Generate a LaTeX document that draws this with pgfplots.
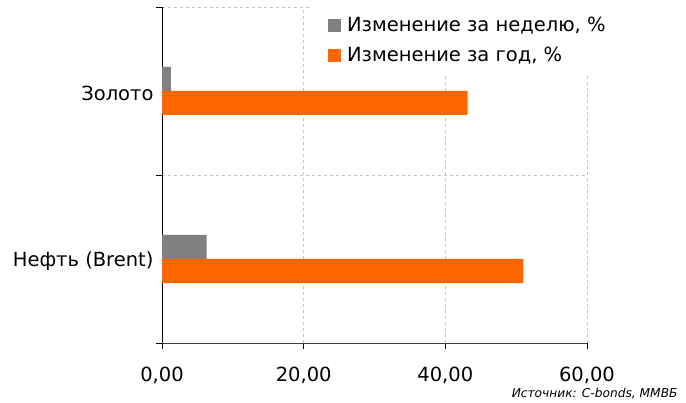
\documentclass[border=0pt]{standalone}
\usepackage{pgfplots}
\pgfplotsset{compat=1.18}
\usepackage{fontspec}
\setmainfont{DejaVu Sans}
\definecolor{wk}{HTML}{808080}
\definecolor{yr}{HTML}{FF6600}
\definecolor{gridc}{HTML}{C4C4C4}
\begin{document}
\begin{tikzpicture}[x=1pt,y=1pt]
\path (0,0) rectangle (686,400);
\begin{axis}[
  set layers=standard,
  at={(162pt,57pt)}, anchor=south west,
  scale only axis, width=425pt, height=336pt,
  xbar, bar width=24pt,
  xmin=0, xmax=60, ymin=-0.5, ymax=1.5,
  axis x line*=bottom, axis y line*=left,
  axis line style={-},
  x axis line style={draw=black!75},
  y axis line style={draw=black},
  tick align=outside, major tick length=6pt,
  tick style={black, line width=0.6pt},
  xtick={0,20,40,60},
  ytick={-0.5,0.5,1.5}, yticklabels={},
  extra y ticks={0,1},
  extra y tick labels={Нефть (Brent),Золото},
  extra y tick style={major tick length=0pt, grid=none,
    yticklabel style={xshift=-5pt, yshift=-2pt}},
  xmajorgrids, ymajorgrids,
  grid style={gridc, dash pattern=on 3pt off 3pt, line width=0.7pt},
  /pgf/number format/.cd, fixed, fixed zerofill, precision=2, use comma, assume math mode=true,
  /pgfplots/.cd,
  ticklabel style={font=\fontsize{19.5}{23}\selectfont},
  xticklabel style={yshift=-14pt},
  legend style={at={(0.348,1.009)}, anchor=north west, draw=none, fill=white,
    font=\fontsize{19.5}{23}\selectfont, inner xsep=18pt, inner ysep=11pt,
    row sep=10pt, cells={anchor=west}},
  legend image code/.code={\fill[#1] (0pt,-6.5pt) rectangle (13pt,6.5pt); \path (0pt,0pt) -- (17pt,0pt);},
]
\addplot[fill=wk, draw=none, bar shift=12pt] coordinates {(6.3,0) (1.25,1)};
\addplot[fill=yr, draw=none, bar shift=-12pt] coordinates {(51.0,0) (43.15,1)};
\legend{{Изменение за неделю, \%}, {Изменение за год, \%}}
\end{axis}
\node[anchor=base east, font=\itshape\fontsize{12.2}{14}\selectfont] at (681,2.5) {Источник: C-bonds, ММВБ};
\end{tikzpicture}
\end{document}
